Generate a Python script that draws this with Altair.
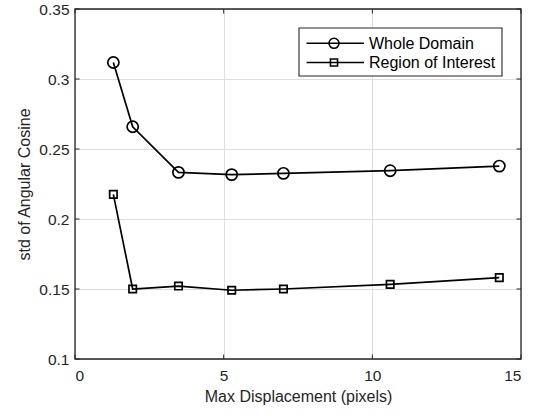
import altair as alt
import pandas as pd

# Measured curves: std of the angular cosine versus the maximum displacement
max_disp = [1.29, 1.94, 3.48, 5.27, 7.01, 10.60, 14.27]
whole_domain = [0.3118, 0.2659, 0.2333, 0.2317, 0.2326, 0.2345, 0.2378]
region_of_interest = [0.2176, 0.1500, 0.1521, 0.1491, 0.1500, 0.1533, 0.1581]
series_names = ["Whole Domain", "Region of Interest"]
series_shapes = ["circle", "square"]
series_sizes = [125, 55]

x_ticks = [0, 5, 10, 15]
y_ticks = [0.1, 0.15, 0.2, 0.25, 0.3, 0.35]

W, H = 446, 350
FONT = "Liberation Sans"
INK = "#262626"
TICK_LEN = 4.5

rows = []
for name, values in zip(series_names, [whole_domain, region_of_interest]):
    for xv, yv in zip(max_disp, values):
        rows.append({"series": name, "x": xv, "y": yv})
df = pd.DataFrame(rows)

x_scale = alt.Scale(domain=[0, 15], nice=False, zero=False)
y_scale = alt.Scale(domain=[0.1, 0.35], nice=False, zero=False)
x_axis = alt.Axis(values=x_ticks, title="Max Displacement (pixels)", grid=True,
                  ticks=False, domain=False, labelPadding=9, titlePadding=5)
y_axis = alt.Axis(values=y_ticks, title="std of Angular Cosine", grid=True,
                  ticks=False, domain=False, format="~g", labelPadding=6,
                  titlePadding=6)
x_enc = alt.X("x:Q", scale=x_scale, axis=x_axis)
y_enc = alt.Y("y:Q", scale=y_scale, axis=y_axis)

shape_scale = alt.Scale(domain=series_names, range=series_shapes)
size_scale = alt.Scale(domain=series_names, range=series_sizes)

lines = alt.Chart(df).mark_line(color="black", strokeWidth=1.7).encode(
    x=x_enc, y=y_enc, detail="series:N"
)
markers = alt.Chart(df).mark_point(filled=False, color="black", strokeWidth=1.7,
                                   opacity=1).encode(
    x=x_enc, y=y_enc,
    shape=alt.Shape("series:N", scale=shape_scale, legend=None),
    size=alt.Size("series:N", scale=size_scale, legend=None),
)

# Inward-pointing tick marks on all four sides of the box
xt = pd.DataFrame({"x": x_ticks})
yt = pd.DataFrame({"y": y_ticks})
tick_style = dict(color=INK, strokeWidth=1)
x_ticks_bottom = alt.Chart(xt).mark_rule(**tick_style).encode(
    x=x_enc, y=alt.value(H), y2=alt.value(H - TICK_LEN))
x_ticks_top = alt.Chart(xt).mark_rule(**tick_style).encode(
    x=x_enc, y=alt.value(0), y2=alt.value(TICK_LEN))
y_ticks_left = alt.Chart(yt).mark_rule(**tick_style).encode(
    y=y_enc, x=alt.value(0), x2=alt.value(TICK_LEN))
y_ticks_right = alt.Chart(yt).mark_rule(**tick_style).encode(
    y=y_enc, x=alt.value(W), x2=alt.value(W - TICK_LEN))

one = pd.DataFrame({"a": [0]})
frame = alt.Chart(one).mark_rect(fillOpacity=0, stroke=INK, strokeWidth=1.3).encode(
    x=alt.value(0), x2=alt.value(W), y=alt.value(0), y2=alt.value(H))

# Legend box in the upper right corner
LX0, LX1, LY0, LY1 = 224, 427, 19, 67
legend_layers = [
    alt.Chart(one).mark_rect(fill="white", stroke=INK, strokeWidth=1.1).encode(
        x=alt.value(LX0), x2=alt.value(LX1), y=alt.value(LY0), y2=alt.value(LY1))
]
for i, name in enumerate(series_names):
    ry = 34.3 + 19.2 * i
    entry = pd.DataFrame({"series": [name]})
    legend_layers.append(
        alt.Chart(entry).mark_rule(color="black", strokeWidth=1.6).encode(
            x=alt.value(231.5), x2=alt.value(289), y=alt.value(ry)))
    legend_layers.append(
        alt.Chart(entry).mark_point(filled=False, color="black", strokeWidth=1.6,
                                    opacity=1, shape=series_shapes[i],
                                    size=[100, 50][i]).encode(
            x=alt.value(259), y=alt.value(ry)))
    legend_layers.append(
        alt.Chart(entry).mark_text(align="left", baseline="middle", font=FONT,
                                   fontSize=16, color="black").encode(
            x=alt.value(294), y=alt.value(ry + 0.5), text="series:N"))

chart = alt.layer(
    lines, markers, x_ticks_bottom, x_ticks_top, y_ticks_left, y_ticks_right,
    frame, *legend_layers
).properties(
    width=W, height=H,
    padding={"left": 75, "top": 9, "right": 18, "bottom": 57},
    autosize=alt.AutoSizeParams(type="none"),
    background="white",
).configure_view(stroke=None).configure_axis(
    labelFont=FONT, labelFontSize=15.5, labelColor=INK,
    titleFont=FONT, titleFontSize=16, titleColor=INK, titleFontWeight="normal",
    gridColor="#dedede", gridWidth=1, gridOpacity=1,
)

chart.save("out.html", embed_options={"renderer": "svg", "actions": False})
